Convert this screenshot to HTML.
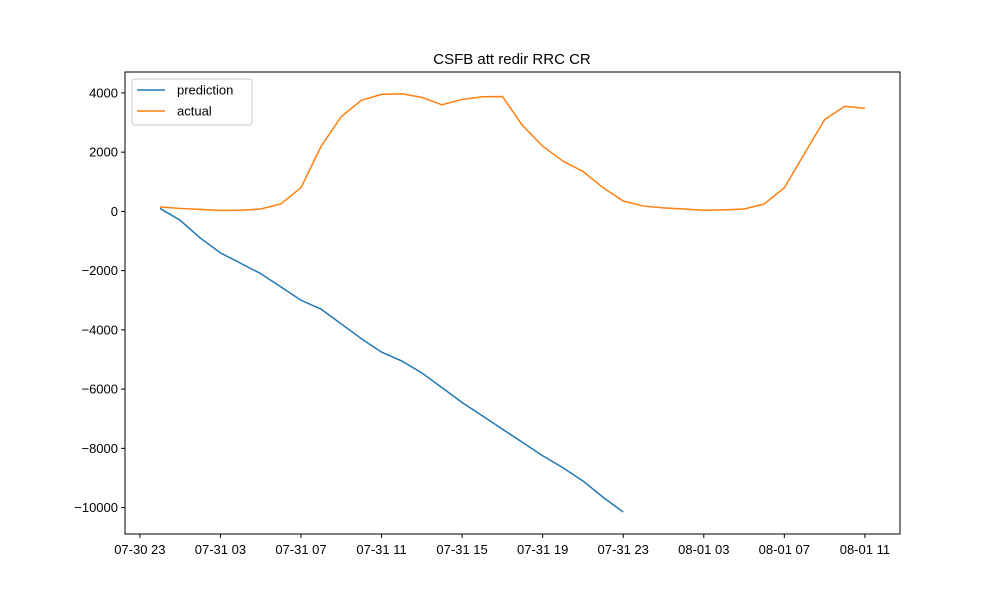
<!DOCTYPE html>
<html><head><meta charset="utf-8"><style>body{margin:0;background:#fff}svg{display:block;font-family:"Liberation Sans","DejaVu Sans",sans-serif}</style></head>
<body>
<svg id="chart" width="1000" height="600"></svg>
<script>
const xTickLabels=["07-30 23","07-31 03","07-31 07","07-31 11","07-31 15","07-31 19","07-31 23","08-01 03","08-01 07","08-01 11"];
const xTickHours=[-1,3,7,11,15,19,23,27,31,35];
const yTicks=[4000,2000,0,-2000,-4000,-6000,-8000,-10000];
const prediction=[100,-300,-900,-1400,-1750,-2100,-2550,-3000,-3300,-3800,-4300,-4750,-5050,-5450,-5950,-6450,-6900,-7350,-7800,-8250,-8650,-9100,-9650,-10150];
const actual=[150,100,70,30,40,80,250,800,2200,3200,3750,3950,3970,3850,3600,3780,3870,3880,2900,2200,1700,1350,800,350,180,120,80,40,50,80,250,800,1950,3100,3550,3480];
const NS="http://www.w3.org/2000/svg";
const svg=document.getElementById('chart');
const L=125,R=900,T=72,B=534;
const xs=h=>160+h*20.14;
const ys=v=>211.4-v*0.02962;
function el(t,a,p){const e=document.createElementNS(NS,t);for(const k in a)e.setAttribute(k,a[k]);(p||svg).appendChild(e);return e;}
const title=el('text',{x:512,y:64,'text-anchor':'middle','font-size':15});title.textContent="CSFB att redir RRC CR";


xTickHours.forEach((h,i)=>{const x=xs(h);
 el('line',{x1:x,x2:x,y1:B,y2:B+4,stroke:'#000'});
 const t=el('text',{x:x,y:B+20,'text-anchor':'middle','font-size':13});t.textContent=xTickLabels[i];
 
 });
yTicks.forEach(v=>{const y=ys(v);
 el('line',{x1:L-4,x2:L,y1:y,y2:y,stroke:'#000'});
 const t=el('text',{x:L-7,y:y+4.5,'text-anchor':'end','font-size':13});t.textContent=(v<0?'\u2212':'')+Math.abs(v);
 
 });
function line(d,c,n){const p=el('polyline',{points:d.map((v,i)=>xs(i)+','+ys(v)).join(' '),fill:'none',stroke:c,'stroke-width':1.5});
 
 }
line(prediction,'#1f77b4','prediction-line');
line(actual,'#ff7f0e','actual-line');
const fr=el('rect',{x:L,y:T,width:R-L,height:B-T,fill:'none',stroke:'#000','stroke-width':1});


const lg=el('g',{});


el('rect',{x:132,y:79,width:120,height:46,rx:3,fill:'#fff',stroke:'#ccc'},lg);
[['prediction','#1f77b4',90],['actual','#ff7f0e',111]].forEach(([n,c,y])=>{
 el('line',{x1:137,x2:165,y1:y,y2:y,stroke:c,'stroke-width':1.5},lg);
 const t=el('text',{x:177,y:y+4.5,'font-size':13},lg);t.textContent=n;
 
 });
</script>
</body></html>
